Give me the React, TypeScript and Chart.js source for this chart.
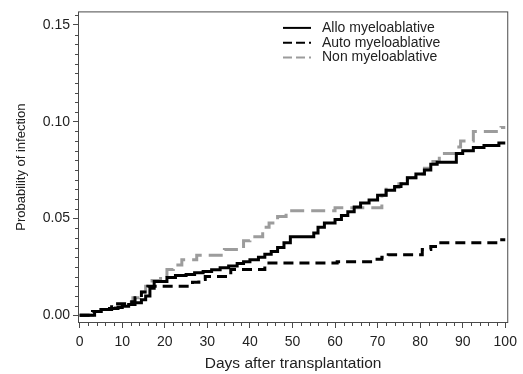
import React, { useEffect, useRef } from "react";
import { Chart, registerables } from "chart.js";

Chart.register(...registerables);

const ALLO_X = [0, 3.5, 5, 7, 9, 10, 11.5, 13, 14.5, 15.5, 16.5, 17.5, 20.5, 22.5, 25, 27, 29, 31, 33, 35, 37, 38.5, 40, 42, 43.5, 45, 46.5, 48, 49.5, 55, 56, 57.5, 60, 61.5, 63, 64.5, 66, 68, 70, 72, 74, 75.5, 77, 79, 81, 82.5, 84, 88.5, 90, 92.5, 95, 98.5, 100];
const ALLO_Y = [0, 0.002, 0.003, 0.0035, 0.004, 0.0046, 0.0056, 0.0065, 0.008, 0.01, 0.014, 0.0175, 0.0195, 0.0205, 0.021, 0.022, 0.0226, 0.0235, 0.0245, 0.0255, 0.0268, 0.0277, 0.0287, 0.03, 0.0315, 0.033, 0.035, 0.0374, 0.0405, 0.0425, 0.0455, 0.0477, 0.0495, 0.0515, 0.0535, 0.056, 0.058, 0.0595, 0.062, 0.0646, 0.0665, 0.068, 0.071, 0.073, 0.075, 0.078, 0.079, 0.0836, 0.085, 0.0867, 0.0877, 0.089, 0.089];

const AUTO_X = [0, 3, 5, 7.5, 11, 13, 14.5, 16, 26.5, 28, 29.5, 35.5, 43.5, 60.5, 69.5, 71, 72.5, 80.5, 82.5, 84, 98.5, 100];
const AUTO_Y = [0, 0.002, 0.003, 0.006, 0.007, 0.009, 0.012, 0.015, 0.017, 0.0185, 0.02, 0.0236, 0.027, 0.0277, 0.029, 0.03, 0.0313, 0.034, 0.0355, 0.0374, 0.039, 0.039];

const NON_X = [0, 3, 5, 7, 9, 11, 12.5, 14, 15.5, 17, 19, 20.5, 22, 24, 27.5, 34, 38.5, 40, 43, 44.5, 46.5, 48.5, 60, 71, 72, 75, 77, 79, 81, 83, 84.5, 88.5, 89.5, 92.5, 99, 100];
const NON_Y = [0, 0.002, 0.003, 0.004, 0.005, 0.0067, 0.009, 0.012, 0.015, 0.018, 0.02, 0.0236, 0.026, 0.0287, 0.031, 0.034, 0.0385, 0.0405, 0.0455, 0.0477, 0.051, 0.054, 0.0555, 0.062, 0.066, 0.068, 0.071, 0.073, 0.076, 0.0795, 0.0836, 0.087, 0.09, 0.095, 0.097, 0.097];

const SERIES_LABELS = ["Allo myeloablative", "Auto myeloablative", "Non myeloablative"];
const X_TICKS = [0, 10, 20, 30, 40, 50, 60, 70, 80, 90, 100];
const Y_TICKS = [0, 0.05, 0.1, 0.15];
const X_TITLE = "Days after transplantation";
const Y_TITLE = "Probability of infection";

const FONT = "'Liberation Sans', Arial, sans-serif";
const AXIS_COLOR = "#4a4a4a";
const TEXT_COLOR = "#222222";

function pts(xs: number[], ys: number[]) {
  return xs.map((x, i) => ({ x, y: ys[i] }));
}

const boxPlugin = {
  id: "boxAndMinor",
  afterDraw(chart: any) {
    const { ctx, chartArea: a, scales } = chart;
    const xs = scales.x;
    const ys = scales.y;
    ctx.save();
    ctx.strokeStyle = AXIS_COLOR;
    ctx.lineWidth = 1;
    ctx.strokeRect(a.left + 0.5, a.top + 0.5, a.right - a.left - 1, a.bottom - a.top - 1);
    ctx.beginPath();
    for (let i = 0; i <= 50; i++) {
      const v = i * 2;
      if (v % 10 === 0) continue;
      const px = Math.round(xs.getPixelForValue(v)) + 0.5;
      ctx.moveTo(px, a.bottom);
      ctx.lineTo(px, a.bottom + 3);
    }
    for (let i = 0; i <= 31; i++) {
      if (i % 10 === 0) continue;
      const v = i * 0.005;
      const py = Math.round(ys.getPixelForValue(v)) + 0.5;
      if (py < a.top) continue;
      ctx.moveTo(a.left, py);
      ctx.lineTo(a.left - 3, py);
    }
    ctx.stroke();
    ctx.restore();
  },
};

const legendPlugin = {
  id: "innerLegend",
  afterDatasetsDraw(chart: any) {
    const { ctx, chartArea: a } = chart;
    const x0 = a.left + 205;
    const y0 = a.top + 16.5;
    ctx.save();
    ctx.font = `14px ${FONT}`;
    ctx.textBaseline = "middle";
    chart.data.datasets.forEach((ds: any, i: number) => {
      const y = y0 + i * 14.8;
      ctx.beginPath();
      ctx.strokeStyle = ds.borderColor;
      ctx.lineWidth = 2;
      ctx.setLineDash(ds.borderDash ? [9, 4] : []);
      ctx.moveTo(x0, y);
      ctx.lineTo(x0 + 28, y);
      ctx.stroke();
      ctx.setLineDash([]);
      ctx.fillStyle = TEXT_COLOR;
      ctx.fillText(ds.label, x0 + 39, y);
    });
    ctx.restore();
  },
};

export default function App() {
  const ref = useRef<HTMLCanvasElement | null>(null);
  useEffect(() => {
    if (!ref.current) return;
    const chart = new Chart(ref.current, {
      type: "line",
      data: {
        datasets: [
          {
            label: SERIES_LABELS[0],
            data: pts(ALLO_X, ALLO_Y),
            borderColor: "#000000",
            borderWidth: 3,
            stepped: true,
            pointRadius: 0,
          },
          {
            label: SERIES_LABELS[1],
            data: pts(AUTO_X, AUTO_Y),
            borderColor: "#000000",
            borderWidth: 3,
            borderDash: [10, 6],
            stepped: true,
            pointRadius: 0,
          },
          {
            label: SERIES_LABELS[2],
            data: pts(NON_X, NON_Y),
            borderColor: "#9c9c9c",
            borderWidth: 3,
            borderDash: [14, 7],
            stepped: true,
            pointRadius: 0,
          },
        ],
      },
      options: {
        animation: false,
        responsive: false,
        maintainAspectRatio: false,
        layout: { padding: { left: 0, right: 8, top: 11, bottom: 0 } },
        plugins: { legend: { display: false }, tooltip: { enabled: false } },
        scales: {
          x: {
            type: "linear",
            min: -0.4,
            max: 100.7,
            afterBuildTicks: (s: any) => {
              s.ticks = X_TICKS.map((v) => ({ value: v }));
            },
            afterFit: (s: any) => {
              s.height = 51;
            },
            grid: { drawOnChartArea: false, tickLength: 5, color: AXIS_COLOR },
            border: { display: false },
            ticks: {
              color: TEXT_COLOR,
              font: { family: FONT, size: 14 },
              padding: 6,
              maxRotation: 0,
              callback: (v: any) => String(v),
            },
            title: {
              display: true,
              text: X_TITLE,
              color: TEXT_COLOR,
              font: { family: FONT, size: 15.5 },
              padding: { top: 0, bottom: 1 },
            },
          },
          y: {
            type: "linear",
            min: -0.004,
            max: 0.157,
            afterBuildTicks: (s: any) => {
              s.ticks = Y_TICKS.map((v) => ({ value: v }));
            },
            afterFit: (s: any) => {
              s.width = 78;
            },
            grid: { drawOnChartArea: false, tickLength: 5, color: AXIS_COLOR },
            border: { display: false },
            ticks: {
              color: TEXT_COLOR,
              font: { family: FONT, size: 14 },
              padding: 3,
              callback: (v: any) => Number(v).toFixed(2),
            },
            title: {
              display: true,
              text: Y_TITLE,
              color: TEXT_COLOR,
              font: { family: FONT, size: 13 },
              padding: { top: 13.5, bottom: 0 },
            },
          },
        },
      },
      plugins: [boxPlugin, legendPlugin],
    } as any);
    return () => chart.destroy();
  }, []);
  return (
    <div style={{ position: "fixed", left: 0, top: 0, width: 523, height: 374, background: "#fff" }}>
      <canvas ref={ref} width={523} height={374} style={{ width: 523, height: 374, display: "block" }} />
    </div>
  );
}
